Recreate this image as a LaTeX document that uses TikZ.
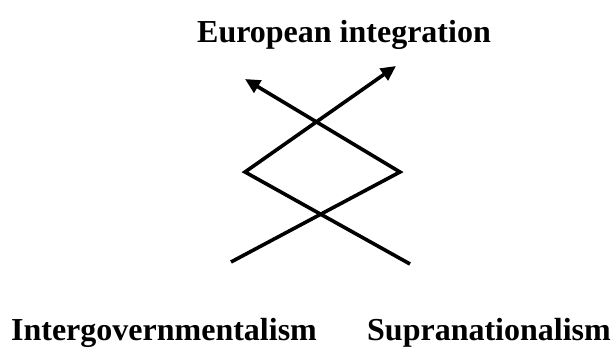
\documentclass[tikz,border=0pt]{standalone}
\usepackage{fontspec}
\setmainfont{Liberation Serif}
\usetikzlibrary{arrows.meta}
\begin{document}
\begin{tikzpicture}[x=1pt,y=-1pt,
  lbl/.style={font=\fontsize{32}{38}\selectfont\bfseries, inner sep=0pt, anchor=base},
  zig/.style={line width=3.6pt, line join=miter},
  tip/.style={-{Triangle[length=15pt,width=14pt]}}]
\useasboundingbox (0,0) rectangle (614,349);
\node[lbl] (title) at (344,42) {European integration};
\node[lbl] (ig) at (164,340) {Intergovernmentalism};
\node[lbl] (sn) at (489,340) {Supranationalism};
\coordinate (a1) at (231,262);
\coordinate (a2) at (400,172);
\coordinate (a3) at (245,79);
\coordinate (b1) at (410,264);
\coordinate (b2) at (245,172);
\coordinate (b3) at (396,66);
\draw[zig,tip] (a1) -- (a2) -- (a3);
\draw[zig,tip] (b1) -- (b2) -- (b3);
\end{tikzpicture}
\end{document}
